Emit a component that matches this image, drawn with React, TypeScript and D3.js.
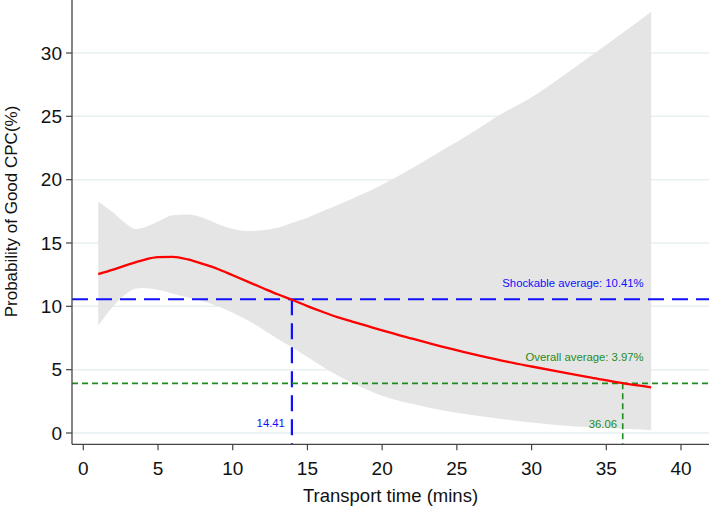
import React from "react";
import * as d3 from "d3";

// Fitted probability curve (transport time in mins -> % good CPC)
const fitX = [1, 2, 3, 4, 5, 6, 7, 8, 9, 10, 11, 12, 13, 14, 15, 16, 17, 18, 19, 20, 22, 24, 26, 28, 30, 32, 34, 36, 38];
const fitY = [12.55, 12.9, 13.3, 13.65, 13.88, 13.9, 13.7, 13.35, 12.95, 12.45, 11.95, 11.45, 10.95, 10.5, 10.02, 9.57, 9.15, 8.8, 8.45, 8.1, 7.45, 6.82, 6.25, 5.72, 5.25, 4.8, 4.38, 3.95, 3.6];

// Confidence band
const bandX = [1, 2, 3, 3.5, 4, 5, 6, 7, 8, 9, 10, 11, 12, 13, 14, 15, 16, 18, 20, 22, 24, 26, 28, 30, 32, 34, 36, 38];
const bandUpper = [18.26, 17.4, 16.4, 16.1, 16.2, 16.7, 17.2, 17.25, 17.0, 16.5, 16.1, 15.95, 16.0, 16.2, 16.6, 17.0, 17.5, 18.5, 19.6, 20.9, 22.3, 23.7, 25.2, 26.5, 28.1, 29.8, 31.5, 33.26];
const bandLower = [8.47, 10.0, 11.1, 11.4, 11.45, 11.3, 11.0, 10.7, 10.4, 10.0, 9.5, 8.9, 8.2, 7.45, 6.75, 6.0, 5.25, 3.95, 2.95, 2.3, 1.8, 1.42, 1.1, 0.82, 0.6, 0.45, 0.33, 0.24];

const xTicks = [0, 5, 10, 15, 20, 25, 30, 35, 40];
const yTicks = [0, 5, 10, 15, 20, 25, 30];

// Reference lines
const shockY = 10.56;
const shockX = 13.96;
const overallY = 3.92;
const overallX = 36.1;
const shockLabel = "Shockable average: 10.41%";
const overallLabel = "Overall average: 3.97%";
const shockXLabel = "14.41";
const overallXLabel = "36.06";

const W = 709;
const H = 512;
const FONT = "'Liberation Sans', Arial, Helvetica, sans-serif";

export default function App() {
  const x = d3.scaleLinear().domain([0, 40]).range([83.3, 681]);
  const y = d3.scaleLinear().domain([0, 30]).range([433, 53]);
  const axisX = 72;
  const axisY = 444.3;

  const band = bandX.map((v, i) => ({ x: v, lo: bandLower[i], hi: bandUpper[i] }));
  const area = d3
    .area<{ x: number; lo: number; hi: number }>()
    .x((d) => x(d.x))
    .y0((d) => y(d.lo))
    .y1((d) => y(d.hi))
    .curve(d3.curveMonotoneX);

  const fit = fitX.map((v, i) => [v, fitY[i]] as [number, number]);
  const line = d3
    .line<[number, number]>()
    .x((d) => x(d[0]))
    .y((d) => y(d[1]))
    .curve(d3.curveMonotoneX);

  const blue = "#1010ff";
  const green = "#1e8c1e";

  return (
    <svg
      width={W}
      height={H}
      style={{ position: "absolute", left: 0, top: 0, background: "#fff" }}
      fontFamily={FONT}
    >
      {/* gridlines */}
      {yTicks.map((t) => (
        <line key={"g" + t} x1={axisX} x2={W} y1={y(t)} y2={y(t)} stroke="#e6eff2" strokeWidth={1.5} />
      ))}

      {/* confidence band */}
      <path d={area(band) || ""} fill="#e5e5e5" stroke="none" />

      {/* reference lines */}
      <line x1={axisX} x2={W} y1={y(shockY)} y2={y(shockY)} stroke={blue} strokeWidth={2.2} strokeDasharray="16 8" />
      <line x1={x(shockX)} x2={x(shockX)} y1={y(shockY)} y2={axisY} stroke={blue} strokeWidth={2.2} strokeDasharray="16 8" />
      <line x1={axisX} x2={W} y1={y(overallY)} y2={y(overallY)} stroke={green} strokeWidth={1.6} strokeDasharray="6 4" />
      <line x1={x(overallX)} x2={x(overallX)} y1={y(overallY)} y2={axisY} stroke={green} strokeWidth={1.6} strokeDasharray="6 4" />

      {/* fitted curve */}
      <path d={line(fit) || ""} fill="none" stroke="#ff0000" strokeWidth={2.3} />

      {/* annotations */}
      <text x={x(37.5)} y={y(shockY) - 12.3} textAnchor="end" fontSize={11.3} fill={blue}>
        {shockLabel}
      </text>
      <text x={x(37.5)} y={y(overallY) - 22} textAnchor="end" fontSize={11.3} fill={green}>
        {overallLabel}
      </text>
      <text x={x(shockX) - 7} y={426.5} textAnchor="end" fontSize={11.3} fill={blue}>
        {shockXLabel}
      </text>
      <text x={x(overallX) - 5.7} y={427.5} textAnchor="end" fontSize={11.3} fill={green}>
        {overallXLabel}
      </text>

      {/* axes */}
      <line x1={axisX} x2={axisX} y1={0} y2={axisY} stroke="#444" strokeWidth={1.3} />
      <line x1={axisX} x2={W} y1={axisY} y2={axisY} stroke="#444" strokeWidth={1.3} />
      {yTicks.map((t) => (
        <g key={"y" + t}>
          <line x1={axisX - 6} x2={axisX} y1={y(t)} y2={y(t)} stroke="#444" strokeWidth={1.2} />
          <text x={62} y={y(t)} dy="0.35em" textAnchor="end" fontSize={19} fill="#111">
            {t}
          </text>
        </g>
      ))}
      {xTicks.map((t) => (
        <g key={"x" + t}>
          <line x1={x(t)} x2={x(t)} y1={axisY} y2={axisY + 6} stroke="#444" strokeWidth={1.2} />
          <text x={x(t)} y={475} textAnchor="middle" fontSize={19} fill="#111">
            {t}
          </text>
        </g>
      ))}

      {/* axis titles */}
      <text x={(axisX + W) / 2} y={502} textAnchor="middle" fontSize={18.5} fill="#111">
        Transport time (mins)
      </text>
      <text
        transform={`translate(16.5,211.5) rotate(-90)`}
        textAnchor="middle"
        fontSize={17}
        fill="#111"
      >
        Probability of Good CPC(%)
      </text>
    </svg>
  );
}
